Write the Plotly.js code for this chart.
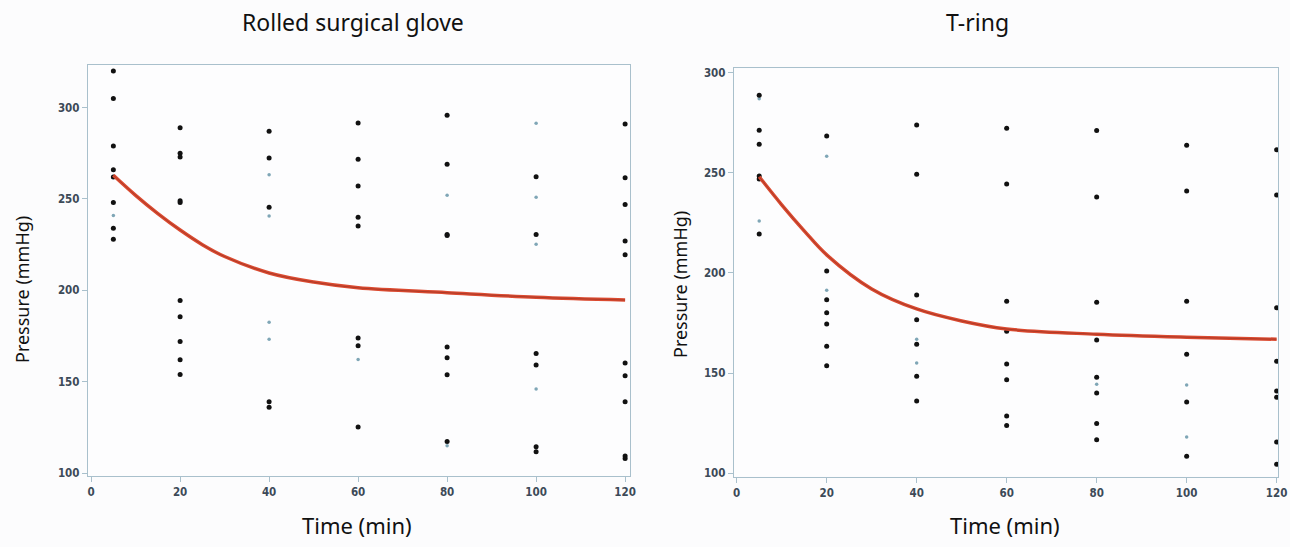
<!DOCTYPE html>
<html>
<head>
<meta charset="utf-8">
<script src="https://cdn.plot.ly/plotly-3.0.1.min.js"></script>
<style>html,body{margin:0;padding:0;background:#fcfcfd;}#chart{width:1290px;height:547px;}</style>
</head>
<body>
<div id="chart"></div>
<script>
// ---- Data ----
const panelTitles = ["Rolled surgical glove", "T-ring"];
const xTitle = "Time (min)";
const yTitle = "Pressure (mmHg)";
const times = [5, 20, 40, 60, 80, 100, 120];

// Rolled surgical glove: measured pressures at each time (dark dots / faint dots)
const gloveDark = [
  [320, 305, 279, 266, 262, 248, 234, 228],
  [289, 275, 273, 249, 248, 194.5, 185.6, 172, 162, 154],
  [287, 272.4, 245.4, 139, 136],
  [291.6, 271.7, 257.1, 240, 235.2, 173.9, 169.7, 125.2],
  [295.8, 269, 230.6, 230, 169, 163.1, 153.8, 117.3],
  [262.2, 230.6, 165.5, 159.1, 114.4, 111.7],
  [291, 261.6, 247, 227, 219.5, 160.2, 153.3, 139, 109.3, 108]
];
const gloveFaint = [
  [241],
  [],
  [263.3, 240.7, 182.6, 173.2],
  [162.2],
  [252, 115],
  [291.4, 250.9, 225.2, 146],
  []
];
const gloveCurveT = [5, 10, 15, 20, 25, 30, 40, 50, 60, 80, 100, 120];
const gloveCurveP = [263, 252, 242, 233, 225, 218.5, 209.5, 204.5, 201.4, 198.7, 196.2, 194.7];

// T-ring
const ringDark = [
  [288.6, 271.2, 264.2, 248.4, 246.9, 219.4],
  [268.3, 201, 186.6, 180.1, 174.5, 163.4, 153.7],
  [273.8, 249.2, 189, 176.6, 164.4, 148.4, 136.1],
  [272.2, 244.4, 185.8, 170.9, 154.5, 146.7, 128.6, 123.8],
  [271, 237.9, 185.3, 166.5, 147.9, 140.1, 124.8, 116.8],
  [263.7, 240.9, 185.8, 159.4, 135.6, 108.5],
  [261.5, 238.9, 182.6, 155.9, 141.1, 137.9, 115.6, 104.5]
];
const ringFaint = [
  [286.9, 225.9],
  [258.2, 191.3],
  [166.9, 155],
  [],
  [144.4],
  [144.1, 118.1],
  []
];
const ringCurveT = [5, 10, 15, 20, 30, 40, 50, 60, 80, 100, 120];
const ringCurveP = [248, 234, 221, 209, 192, 182, 176, 172, 169.4, 167.9, 166.9];

const xTicks = [0, 20, 40, 60, 80, 100, 120];
const yTicks = [100, 150, 200, 250, 300];

// ---- build traces ----
function flatten(groups) {
  const x = [], y = [];
  groups.forEach((vals, i) => vals.forEach(v => { x.push(times[i]); y.push(v); }));
  return {x, y};
}
function panelTraces(dark, faint, ct, cp, xa, ya) {
  const d = flatten(dark), f = flatten(faint);
  return [
    {type: 'scatter', mode: 'markers', x: f.x, y: f.y, xaxis: xa, yaxis: ya,
     marker: {color: '#7fa6b6', size: 3.5, symbol: 'circle'}, hoverinfo: 'skip', showlegend: false},
    {type: 'scatter', mode: 'markers', x: d.x, y: d.y, xaxis: xa, yaxis: ya,
     marker: {color: '#111111', size: 5, symbol: 'circle'}, showlegend: false},
    {type: 'scatter', mode: 'lines', x: ct, y: cp, xaxis: xa, yaxis: ya,
     line: {color: '#db4a30', width: 3.5, shape: 'spline', smoothing: 1}, showlegend: false},
    {type: 'scatter', mode: 'lines', x: ct, y: cp, xaxis: xa, yaxis: ya,
     line: {color: '#7e2b20', width: 1, shape: 'spline', smoothing: 1}, opacity: 0.5, showlegend: false}
  ];
}
const data = [].concat(
  panelTraces(gloveDark, gloveFaint, gloveCurveT, gloveCurveP, 'x', 'y'),
  panelTraces(ringDark, ringFaint, ringCurveT, ringCurveP, 'x2', 'y2')
);

const frameColor = '#a9c0cc';
const tickFont = {family: '"Liberation Sans Narrow", "DejaVu Sans Condensed", "Liberation Sans", sans-serif', size: 11.5, color: '#3c4a58', weight: 'bold'};
function xAxis(domain, range, anchor) {
  return {domain, range, anchor, tickvals: xTicks, ticktext: xTicks.map(String),
    showgrid: false, zeroline: false, showline: true, mirror: true, linecolor: frameColor, linewidth: 1.2,
    ticks: 'outside', ticklen: 5, tickcolor: frameColor, tickfont: tickFont, fixedrange: true};
}
function yAxis(domain, range, anchor) {
  return {domain, range, anchor, tickvals: yTicks, ticktext: yTicks.map(String),
    showgrid: false, zeroline: false, showline: true, mirror: true, linecolor: frameColor, linewidth: 1.2,
    ticks: 'outside', ticklen: 5, tickcolor: frameColor, tickfont: tickFont, fixedrange: true};
}
const titleFont = {family: '"Noto Sans", "Open Sans", sans-serif', size: 23, color: '#111'};
const axFont = {family: '"Noto Sans", "Open Sans", sans-serif', size: 22, color: '#111'};
const layout = {
  width: 1290, height: 547,
  margin: {l: 0, r: 0, t: 0, b: 0},
  paper_bgcolor: '#fcfcfd', plot_bgcolor: '#fdfdfe',
  xaxis: xAxis([88/1290, 630/1290], [-0.7, 121.1], 'y'),
  yaxis: yAxis([1 - 476/547, 1 - 65/547], [98.4, 323.3], 'x'),
  xaxis2: xAxis([734/1290, 1278/1290], [-0.6, 120.3], 'y2'),
  yaxis2: yAxis([1 - 476.7/547, 1 - 68.3/547], [98.3, 302.1], 'x2'),
  annotations: [
    {text: panelTitles[0], xref: 'paper', yref: 'paper', x: 353/1290, y: 1 - 22/547, showarrow: false, font: titleFont, xanchor: 'center', yanchor: 'middle'},
    {text: panelTitles[1], xref: 'paper', yref: 'paper', x: 977/1290, y: 1 - 22/547, showarrow: false, font: titleFont, xanchor: 'center', yanchor: 'middle'},
    {text: xTitle, xref: 'paper', yref: 'paper', x: 357/1290, y: 1 - 525/547, showarrow: false, font: axFont, xanchor: 'center', yanchor: 'middle'},
    {text: xTitle, xref: 'paper', yref: 'paper', x: 1005/1290, y: 1 - 525/547, showarrow: false, font: axFont, xanchor: 'center', yanchor: 'middle'},
    {text: yTitle, xref: 'paper', yref: 'paper', x: 22/1290, y: 1 - 290/547, showarrow: false, font: {family: axFont.family, size: 18, color: '#111'}, textangle: -90, xanchor: 'center', yanchor: 'middle'},
    {text: yTitle, xref: 'paper', yref: 'paper', x: 680/1290, y: 1 - 285/547, showarrow: false, font: {family: axFont.family, size: 18, color: '#111'}, textangle: -90, xanchor: 'center', yanchor: 'middle'}
  ]
};
Plotly.newPlot('chart', data, layout, {staticPlot: true, displayModeBar: false});
</script>
</body>
</html>
